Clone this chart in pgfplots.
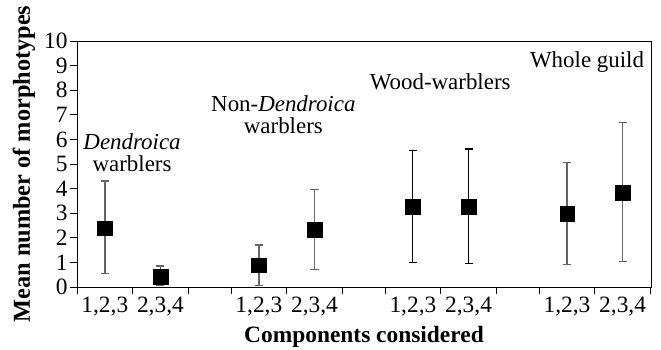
\documentclass[border=0pt]{standalone}
\usepackage{pgfplots}
\pgfplotsset{compat=1.18}
\usepackage{fontspec}
\setmainfont{Liberation Serif}
\definecolor{ebgray}{HTML}{666666}
\begin{document}
\begin{tikzpicture}
\begin{axis}[
  scale only axis, width=574bp, height=246bp,
  xmin=0, xmax=10.32, ymin=0, ymax=10,
  axis line style={line width=0.9bp},
  tick style={line width=0.9bp, black},
  tick align=outside, major tick length=7bp,
  xtick pos=bottom, ytick pos=left,
  ytick={0,1,...,10},
  xtick={0,1,2,2.77,3.77,4.77,5.54,6.54,7.54,8.31,9.31,10.31},
  xticklabel=\empty,
  extra x ticks={0.5,1.5,3.27,4.27,6.04,7.04,8.81,9.81},
  extra x tick labels={{1,2,3},{2,3,4},{1,2,3},{2,3,4},{1,2,3},{2,3,4},{1,2,3},{2,3,4}},
  extra x tick style={tick style={draw=none}},
  /pgf/number format/assume math mode=true,
  ticklabel style={font=\fontsize{23.5}{24}\selectfont},
  yticklabel style={xshift=1bp},
  xticklabel style={yshift=1bp},
  xlabel={Components considered},
  label style={font=\fontsize{23.5}{25}\selectfont\bfseries},
  xlabel style={at={(rel axis cs:0.5,0)}, anchor=center, yshift=-50bp},
  clip=false,
]
\coordinate (SW) at (rel axis cs:0,0);
\coordinate (NE) at (rel axis cs:1,1);
\node[rotate=90, anchor=center, font=\fontsize{24.4}{25}\selectfont\bfseries]
  at ([xshift=-53bp]rel axis cs:0,0.5) {Mean number of morphotypes};
% grey error bars
\addplot[only marks, mark=square*, mark size=7.3bp, black,
  error bars/.cd, y dir=both, y explicit,
  error bar style={line width=1.4bp, ebgray},
  error mark options={rotate=90, mark size=4bp, line width=1.4bp, ebgray}]
coordinates {
  (0.5,2.39) += (0,1.92) -= (0,1.85)
  (1.5,0.43) += (0,0.42) -= (0,0.38)
  (3.27,0.88) += (0,0.83) -= (0,0.83)
  (4.27,2.32) += (0,1.65) -= (0,1.60)
  (8.81,2.97) += (0,2.10) -= (0,2.05)
  (9.81,3.83) += (0,2.86) -= (0,2.80)
};
% black error bars
\addplot[only marks, mark=square*, mark size=7.3bp, black,
  error bars/.cd, y dir=both, y explicit,
  error bar style={line width=1.1bp, black},
  error mark options={rotate=90, mark size=4bp, line width=1.1bp, black}]
coordinates {
  (6.04,3.26) += (0,2.28) -= (0,2.26)
  (7.04,3.26) += (0,2.35) -= (0,2.30)
};
\node[font=\fontsize{23}{25}\selectfont, align=center] at (axis cs:0.99,5.45) {\textit{Dendroica}\\[-3bp]warblers};
\node[font=\fontsize{23}{25}\selectfont, align=center] at (axis cs:3.71,7.0) {Non-\textit{Dendroica}\\[-3bp]warblers};
\node[font=\fontsize{23}{25}\selectfont] at (axis cs:6.53,8.33) {Wood-warblers};
\node[font=\fontsize{23}{25}\selectfont] at (axis cs:9.17,9.15) {Whole guild};
\end{axis}
\pgfresetboundingbox
\path[use as bounding box] ([shift={(-77bp,-63bp)}]SW) rectangle ([shift={(10bp,41bp)}]NE);
\end{tikzpicture}
\end{document}
